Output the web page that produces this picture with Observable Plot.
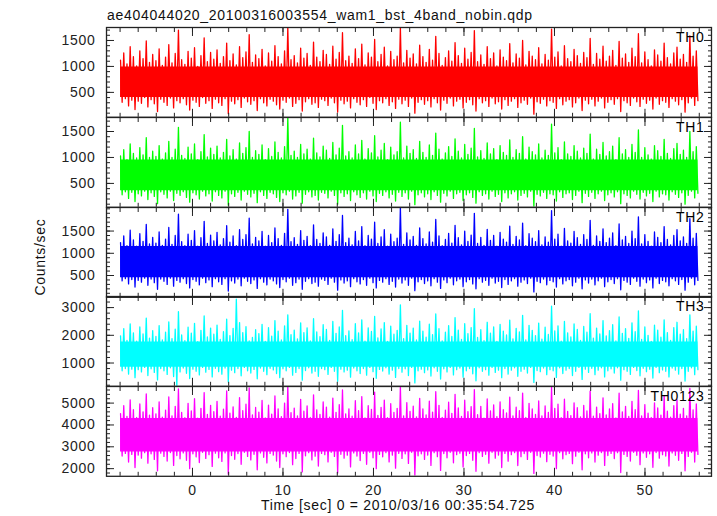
<!DOCTYPE html>
<html>
<head>
<meta charset="utf-8">
<script src="https://cdn.jsdelivr.net/npm/d3@7"></script>
<script src="https://cdn.jsdelivr.net/npm/@observablehq/plot@0.6"></script>
<style>
  body { margin: 0; background: #fff; }
  #chart { position: relative; width: 717px; height: 516px; overflow: hidden;
           font-family: "Liberation Sans", Arial, sans-serif; color: #111; }
  .panel { position: absolute; left: 0; }
  .lbl { position: absolute; font-size: 14px; line-height: 14px; letter-spacing: 0.7px; white-space: nowrap; }
</style>
</head>
<body>
<div id="chart"></div>
<script>
const titleText = "ae404044020_20100316003554_wam1_bst_4band_nobin.qdp";
const xLabel = "Time [sec] 0 = 2010/03/16 00:35:54.725";
const yLabel = "Counts/sec";
const panelNames = ["TH0", "TH1", "TH2", "TH3", "TH0123"];
const panelColors = ["#ff0000", "#00ff00", "#0000ff", "#00ffff", "#ff00ff"];

const timeRange = [-7.95, 55.85];
const xDomain = [-9.5, 57.35];
const xMajorTicks = [0, 10, 20, 30, 40, 50];
const xMinorTicks = [-8, -6, -4, -2, 0, 2, 4, 6, 8, 10, 12, 14, 16, 18, 20, 22, 24, 26, 28, 30,
  32, 34, 36, 38, 40, 42, 44, 46, 48, 50, 52, 54, 56];

const yDomains = [[20, 1750], [40, 1770], [10, 2030], [160, 3400], [1650, 5760]];
const yMajorTicks = [
  [500, 1000, 1500],
  [500, 1000, 1500],
  [500, 1000, 1500],
  [1000, 2000, 3000],
  [2000, 3000, 4000, 5000]
];
const yMinorTicks = [
  [100, 200, 300, 400, 500, 600, 700, 800, 900, 1000, 1100, 1200, 1300, 1400, 1500, 1600, 1700],
  [100, 200, 300, 400, 500, 600, 700, 800, 900, 1000, 1100, 1200, 1300, 1400, 1500, 1600, 1700],
  [100, 200, 300, 400, 500, 600, 700, 800, 900, 1000, 1100, 1200, 1300, 1400, 1500, 1600, 1700, 1800, 1900, 2000],
  [200, 400, 600, 800, 1000, 1200, 1400, 1600, 1800, 2000, 2200, 2400, 2600, 2800, 3000, 3200, 3400],
  [1800, 2000, 2200, 2400, 2600, 2800, 3000, 3200, 3400, 3600, 3800, 4000, 4200, 4400, 4600, 4800, 5000, 5200, 5400, 5600]
];

// dense (saturated) core of each light curve, counts/sec
const coreLow = [400, 360, 450, 850, 2760];
const coreHigh = [990, 950, 1150, 1760, 4300];

// light-curve samples (counts/sec), evenly spaced over timeRange
const th0 = [
1120,310, 1260,380, 1050,240, 1380,350, 1190,170, 1010,330, 1300,290, 1150,400, 1490,220, 1080,360,
1230,280, 1110,130, 1340,370, 1020,310, 1180,250, 1420,390, 1070,200, 1250,340, 1700,300, 1130,380,
1040,260, 1290,160, 1160,350, 1360,310, 1000,230, 1210,400, 1550,290, 1090,340, 1270,190, 1140,370,
1320,300, 1060,250, 1190,380, 1450,90, 1110,330, 1240,280, 1030,360, 1380,210, 1170,390, 1280,320,
1610,270, 1080,340, 1220,150, 1150,380, 1330,300, 1010,240, 1260,370, 1100,330, 1400,260, 1190,180,
1050,350, 1300,310, 1750,390, 1130,230, 1210,290, 1070,360, 1350,140, 1160,320, 1250,380, 1020,270,
1470,300, 1180,210, 1090,370, 1310,340, 1230,250, 1040,390, 1390,300, 1140,120, 1270,350, 1650,280,
1110,330, 1200,200, 1060,380, 1340,310, 1150,260, 1430,360, 1030,230, 1260,400, 1180,290, 1520,170,
1090,340, 1230,300, 1370,380, 1010,250, 1290,320, 1130,190, 1200,370, 1750,280, 1070,350, 1310,230,
1160,390, 1240,100, 1050,310, 1410,360, 1190,270, 1080,340, 1330,220, 1120,380, 1580,300, 1250,160,
1020,350, 1170,290, 1300,390, 1100,240, 1460,330, 1210,370, 1060,200, 1350,310, 1140,360, 1270,260,
1690,140, 1090,380, 1220,300, 1040,340, 1380,230, 1150,390, 1260,280, 1010,320, 1320,180, 1180,360,
1110,250, 1440,330, 1070,380, 1240,210, 1160,300, 1500,350, 1030,270, 1290,390, 1200,80, 1130,320,
1360,290, 1050,370, 1230,240, 1120,340, 1720,310, 1180,190, 1280,380, 1010,260, 1400,330, 1150,360,
1090,220, 1330,300, 1210,390, 1060,150, 1270,350, 1170,280, 1540,370, 1040,240, 1250,330, 1140,390,
1390,200, 1100,310, 1200,360, 1310,270, 1020,380, 1480,130, 1160,340, 1240,300, 1080,250, 1350,390,
1190,320, 1630,230, 1070,370, 1280,290, 1130,350, 1010,180, 1320,390, 1220,270, 1100,340, 1450,310,
1170,210, 1050,380, 1260,330, 1370,260, 1140,360, 1230,120, 1080,300, 1590,390, 1200,250, 1300,340
];
const th1 = [
1030,280, 1150,340, 960,210, 1260,330, 1080,150, 990,300, 1190,260, 1050,350, 1380,190, 1000,320,
1120,250, 1020,110, 1230,340, 970,290, 1090,220, 1310,350, 1000,170, 1160,310, 1580,270, 1040,340,
980,230, 1200,140, 1070,320, 1260,280, 960,200, 1110,350, 1440,260, 1010,300, 1180,160, 1060,340,
1220,270, 990,220, 1100,350, 1350,80, 1030,300, 1150,250, 970,330, 1280,180, 1080,350, 1190,290,
1500,240, 1000,310, 1130,130, 1060,340, 1240,270, 960,210, 1170,330, 1020,300, 1300,230, 1100,150,
990,320, 1210,280, 1770,350, 1040,200, 1120,260, 1000,330, 1250,120, 1070,290, 1160,340, 970,240,
1370,270, 1090,180, 1010,330, 1220,310, 1140,220, 980,350, 1290,270, 1050,100, 1180,320, 1620,250,
1030,300, 1110,170, 990,340, 1240,280, 1070,230, 1330,320, 970,200, 1170,350, 1090,260, 1420,150,
1010,310, 1140,270, 1270,340, 960,220, 1200,290, 1050,160, 1110,330, 1680,250, 990,320, 1220,200,
1080,350, 1150,90, 980,280, 1310,320, 1100,240, 1000,300, 1240,190, 1040,340, 1470,270, 1160,140,
970,310, 1090,260, 1210,350, 1020,210, 1360,300, 1120,330, 990,170, 1250,280, 1060,320, 1180,230,
1560,120, 1010,340, 1130,270, 980,300, 1280,200, 1070,350, 1170,250, 960,290, 1230,150, 1100,320,
1040,220, 1340,300, 1000,340, 1150,180, 1080,270, 1400,310, 970,240, 1200,350, 1110,60, 1050,290,
1260,260, 990,330, 1140,210, 1040,300, 1640,280, 1090,160, 1190,340, 960,230, 1300,300, 1070,320,
1020,190, 1230,270, 1120,350, 990,130, 1180,310, 1080,250, 1450,330, 970,210, 1160,300, 1060,350,
1290,170, 1030,280, 1110,320, 1220,240, 960,340, 1380,110, 1070,300, 1150,270, 1000,220, 1250,350,
1100,290, 1530,200, 1000,330, 1190,260, 1050,310, 970,150, 1230,350, 1130,240, 1020,300, 1350,280,
1080,180, 980,340, 1170,290, 1270,230, 1060,320, 1140,100, 1000,270, 1500,350, 1110,220, 1210,310
];
const th2 = [
1240,380, 1390,430, 1170,310, 1520,410, 1300,240, 1160,390, 1440,350, 1270,440, 1650,280, 1210,420,
1360,340, 1230,190, 1480,420, 1180,370, 1320,300, 1580,440, 1200,260, 1400,390, 1880,350, 1260,430,
1170,320, 1430,220, 1290,410, 1510,370, 1160,290, 1350,440, 1720,340, 1220,400, 1410,250, 1280,430,
1470,360, 1190,300, 1330,430, 1620,150, 1250,380, 1390,330, 1170,420, 1530,270, 1310,440, 1420,370,
1790,320, 1210,400, 1360,210, 1280,430, 1490,350, 1160,290, 1400,420, 1240,380, 1570,310, 1330,230,
1180,410, 1450,360, 1990,440, 1260,280, 1350,340, 1200,420, 1510,190, 1290,370, 1380,430, 1170,320,
1640,350, 1310,260, 1220,420, 1460,390, 1370,300, 1180,440, 1550,350, 1270,170, 1420,400, 1850,330,
1240,380, 1340,250, 1190,430, 1490,360, 1280,310, 1600,410, 1170,280, 1400,440, 1320,340, 1700,220,
1220,390, 1370,350, 1530,430, 1160,300, 1430,370, 1260,240, 1340,420, 2030,330, 1200,400, 1460,280,
1300,440, 1380,160, 1180,360, 1570,410, 1330,320, 1210,380, 1480,270, 1250,430, 1760,350, 1390,210,
1170,400, 1310,340, 1450,440, 1230,290, 1630,380, 1350,420, 1190,250, 1500,360, 1270,410, 1410,310,
1900,200, 1220,430, 1360,350, 1180,390, 1540,280, 1290,440, 1400,330, 1160,370, 1470,230, 1320,410,
1250,300, 1610,380, 1200,430, 1380,260, 1300,350, 1680,400, 1170,320, 1440,440, 1340,130, 1260,370,
1510,340, 1190,420, 1370,290, 1250,390, 1960,360, 1320,240, 1430,430, 1160,310, 1560,380, 1280,410,
1230,270, 1490,350, 1350,440, 1200,200, 1420,400, 1310,330, 1740,420, 1180,290, 1390,380, 1270,440,
1550,250, 1240,360, 1340,410, 1460,320, 1170,430, 1660,180, 1300,390, 1380,350, 1220,300, 1500,440,
1330,370, 1820,260, 1210,420, 1420,340, 1270,400, 1160,220, 1480,440, 1360,320, 1240,390, 1600,360,
1310,270, 1190,430, 1400,380, 1530,300, 1280,410, 1370,170, 1220,350, 1780,440, 1340,290, 1450,390
];
const th3 = [
1980,720, 2240,800, 1820,600, 2410,780, 2090,470, 1790,760, 2300,680, 2050,840, 2620,550, 1900,790,
2170,660, 1960,390, 2350,800, 1830,720, 2110,590, 2480,830, 1880,510, 2220,180, 2850,680, 2010,820,
1810,630, 2290,440, 2080,780, 2430,700, 1770,570, 2180,840, 2700,670, 1940,770, 2260,500, 2040,810,
2370,690, 1850,600, 2130,820, 2580,320, 1990,740, 2250,650, 3300,800, 2460,540, 2100,840, 2310,720,
1800,640, 1920,770, 2200,430, 2060,820, 2390,700, 1780,580, 2280,810, 1970,750, 2530,620, 2150,470,
1830,790, 2340,720, 2740,840, 2020,560, 2190,660, 1870,800, 2450,380, 2100,730, 2270,830, 1800,640,
2600,700, 2120,520, 1950,800, 2380,760, 2210,590, 1820,840, 2500,700, 2070,340, 2300,780, 2900,680,
1990,740, 2160,490, 1840,820, 2420,720, 2090,620, 2560,800, 1790,560, 2270,840, 2140,690, 2680,450,
1910,770, 2230,710, 2460,830, 1780,600, 2330,740, 2040,480, 2180,800, 3100,670, 1880,790, 2360,550,
2080,840, 2260,280, 1830,720, 2510,780, 2150,650, 1930,750, 2400,530, 2020,830, 2770,700, 2240,420,
1800,790, 2110,680, 2350,840, 1960,570, 2640,760, 2190,820, 1850,490, 2420,720, 2060,800, 2280,610,
2960,360, 1920,830, 2200,700, 1810,760, 2470,560, 2080,840, 2300,660, 1780,740, 2390,470, 2150,800,
2010,600, 2550,740, 1870,830, 2250,520, 2120,700, 2720,780, 1830,640, 2360,840, 2180,300, 1990,730,
2440,690, 1860,820, 2290,580, 2030,760, 3050,720, 2160,480, 2340,830, 1790,620, 2500,740, 2090,800,
1940,550, 2410,700, 2210,840, 1820,410, 2320,780, 2110,660, 2780,810, 1900,580, 2260,740, 2050,830,
2530,500, 1980,720, 2170,790, 2380,640, 1800,830, 2660,380, 2070,760, 2240,700, 1890,590, 2450,840,
2130,730, 2880,540, 1850,810, 2300,690, 2000,780, 1780,460, 2370,840, 2190,650, 1930,750, 2560,700,
2100,500, 1820,820, 2280,740, 2470,600, 2040,800, 2200,350, 1880,700, 2740,830, 2150,580, 2330,760
];
const th0123 = [
4520,2580, 4880,2700, 4390,2300, 5150,2650, 4700,2050, 4340,2620, 4960,2480, 4600,2730, 5420,2250, 4450,2680,
4790,2420, 4510,1900, 5060,2710, 4360,2560, 4680,2350, 5280,2740, 4420,2150, 4850,2600, 5650,2450, 4570,2720,
4330,2380, 4990,2000, 4640,2680, 5200,2540, 4310,2280, 4760,2750, 5480,2470, 4480,2640, 4900,2100, 4610,2710,
5080,2500, 4400,2330, 4720,2720, 5560,1750, 4540,2600, 4830,2430, 4350,2690, 5250,2200, 4660,2750, 4950,2560,
5700,2400, 4460,2660, 4800,1950, 4590,2720, 5120,2520, 4320,2260, 4910,2700, 4500,2620, 5330,2350, 4740,2050,
4380,2680, 5000,2550, 5760,2740, 4560,2180, 4770,2460, 4410,2700, 5170,1850, 4630,2590, 4870,2730, 4340,2400,
5380,2570, 4690,2120, 4480,2700, 5050,2640, 4820,2310, 4360,2750, 5230,2560, 4580,1800, 4930,2660, 5600,2480,
4510,2620, 4740,2080, 4400,2720, 5110,2580, 4650,2370, 5300,2700, 4320,2200, 4880,2750, 4710,2500, 5500,2000,
4440,2650, 4800,2540, 5140,2730, 4330,2310, 4970,2620, 4570,2020, 4760,2700, 5740,2470, 4420,2680, 5020,2240,
4620,2750, 4860,1700, 4370,2590, 5220,2680, 4730,2420, 4460,2620, 5090,2150, 4590,2730, 5520,2550, 4900,1920,
4350,2690, 4680,2500, 5040,2750, 4530,2270, 5400,2640, 4780,2710, 4390,2080, 5130,2600, 4610,2700, 4840,2380,
5620,1880, 4470,2730, 4850,2560, 4310,2660, 5190,2250, 4640,2750, 4920,2480, 4380,2620, 5060,2050, 4700,2700,
4550,2340, 5270,2640, 4420,2730, 4810,2140, 4660,2550, 5460,2690, 4340,2420, 4990,2750, 4730,1780, 4480,2600,
5100,2530, 4410,2710, 4870,2320, 4580,2660, 5720,2580, 4760,2000, 4950,2730, 4330,2450, 5180,2640, 4620,2700,
4430,2230, 5010,2570, 4790,2750, 4370,1950, 4890,2680, 4640,2500, 5550,2720, 4400,2300, 4820,2620, 4520,2740,
5240,2150, 4460,2600, 4730,2700, 4980,2460, 4320,2730, 5450,1820, 4600,2650, 4850,2560, 4390,2350, 5080,2750,
4700,2610, 5580,2180, 4410,2720, 4930,2520, 4540,2680, 4340,2060, 5010,2740, 4780,2480, 4450,2640, 5320,2580,
4630,2120, 4360,2720, 4880,2610, 5150,2380, 4500,2700, 4760,1900, 4420,2560, 5670,2750, 4690,2300, 4960,2650
];
const series = [th0, th1, th2, th3, th0123];

const chart = document.getElementById("chart");
const fontFamily = '"Liberation Sans", Arial, sans-serif';
const frameTop = 27, panelH = 89.8, mt = 8, mb = 8, mbLast = 40;
const axisColor = "#222";

function addLabel(text, css) {
  const d = document.createElement("div");
  d.className = "lbl";
  d.textContent = text;
  Object.assign(d.style, css);
  chart.appendChild(d);
}

series.forEach((vals, i) => {
  const isLast = i === series.length - 1;
  const n = vals.length;
  const step = (timeRange[1] - timeRange[0]) / (n - 1);
  const data = vals.map((v, k) => ({t: timeRange[0] + k * step, v}));
  const core = timeRange.map(t => ({t, lo: coreLow[i], hi: coreHigh[i]}));
  const color = panelColors[i];
  const bottom = isLast ? mbLast : mb;
  const blank = () => "";
  const svg = Plot.plot({
    width: 717,
    height: panelH + mt + bottom,
    marginLeft: 106, marginRight: 6, marginTop: mt, marginBottom: bottom,
    x: {domain: xDomain},
    y: {domain: yDomains[i]},
    style: {fontFamily, fontSize: "14px", letterSpacing: "0.7px", color: axisColor, background: "transparent", overflow: "visible"},
    marks: [
      Plot.areaY(core, {x: "t", y1: "lo", y2: "hi", fill: color}),
      Plot.lineY(data, {x: "t", y: "v", stroke: color, strokeWidth: 1.3, clip: true}),
      Plot.axisY(yMinorTicks[i], {anchor: "left", tickSize: -4, tickFormat: blank, label: null}),
      Plot.axisY(yMinorTicks[i], {anchor: "right", tickSize: -4, tickFormat: blank, label: null}),
      Plot.axisY(yMajorTicks[i], {anchor: "left", tickSize: -8, tickPadding: 19, tickFormat: "d", label: null}),
      Plot.axisY(yMajorTicks[i], {anchor: "right", tickSize: -8, tickFormat: blank, label: null}),
      Plot.axisX(xMinorTicks, {anchor: "bottom", tickSize: -4, tickFormat: blank, label: null}),
      Plot.axisX(xMinorTicks, {anchor: "top", tickSize: -4, tickFormat: blank, label: null}),
      Plot.axisX(xMajorTicks, {anchor: "bottom", tickSize: -8, tickPadding: 17, tickFormat: isLast ? "d" : blank, label: null}),
      Plot.axisX(xMajorTicks, {anchor: "top", tickSize: -8, tickFormat: blank, label: null}),
      Plot.frame({stroke: axisColor, strokeWidth: 1.3}),
      Plot.text([panelNames[i]], {frameAnchor: "top-right", text: d => d, dx: -7, dy: 5, fontSize: 14, fill: "#000"})
    ]
  });
  svg.classList.add("panel");
  svg.style.top = (frameTop + i * panelH - mt) + "px";
  chart.appendChild(svg);
});

addLabel(titleText, {left: "107px", top: "8px"});
addLabel(xLabel, {left: "398px", top: "498px", transform: "translateX(-50%)"});
addLabel(yLabel, {left: "40px", top: "257px", transform: "translate(-50%, -50%) rotate(-90deg)"});
</script>
</body>
</html>
